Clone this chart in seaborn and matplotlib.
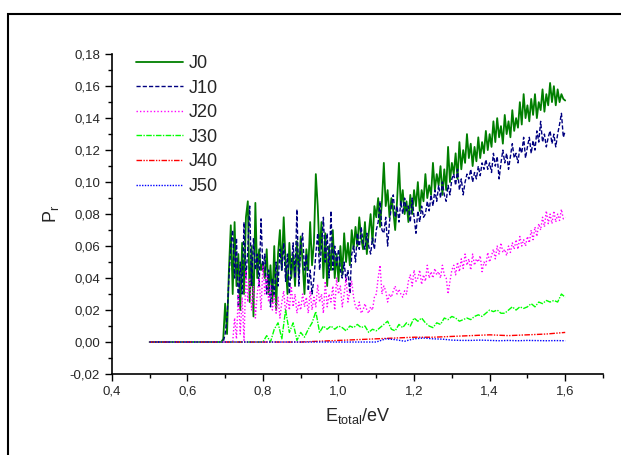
import numpy as np
import pandas as pd
import matplotlib
matplotlib.use("Agg")
import matplotlib.pyplot as plt
from matplotlib.patches import Rectangle
from matplotlib.ticker import MultipleLocator, FuncFormatter
import seaborn as sns

# values (P_r vs E_total)
j0 = [0.0, 0.002, 0.024, 0.005, 0.045, 0.073, 0.030, 0.075, 0.035, 0.055, 0.020, 0.062, 0.030, 0.078, 0.088, 0.025, 0.060, 0.016, 0.087, 0.040, 0.058, 0.045, 0.050,
      0.040, 0.058, 0.030, 0.048, 0.025, 0.060, 0.020, 0.055, 0.070, 0.045, 0.078, 0.050, 0.030, 0.062, 0.040, 0.055, 0.035, 0.063, 0.042, 0.066,
      0.050, 0.030, 0.058, 0.045, 0.075, 0.048, 0.062, 0.105, 0.085, 0.055, 0.075, 0.040, 0.068, 0.035, 0.060, 0.045, 0.070, 0.040, 0.055, 0.038,
      0.060, 0.042, 0.068, 0.050, 0.062, 0.048, 0.070, 0.058, 0.072, 0.060, 0.078, 0.065, 0.058, 0.075, 0.055, 0.068, 0.080, 0.062, 0.085, 0.078,
      0.090, 0.072, 0.088, 0.112, 0.085, 0.095, 0.078, 0.090, 0.082, 0.070, 0.088, 0.112, 0.085, 0.095, 0.080, 0.088, 0.075, 0.092, 0.080, 0.095,
      0.085, 0.100, 0.082, 0.095, 0.088, 0.105, 0.090, 0.098, 0.092, 0.112, 0.095, 0.105, 0.098, 0.110, 0.092, 0.108, 0.095, 0.122, 0.100, 0.112,
      0.105, 0.118, 0.102, 0.125, 0.108, 0.120, 0.112, 0.130, 0.115, 0.124, 0.110, 0.122, 0.113, 0.128, 0.115, 0.125, 0.118, 0.132, 0.120, 0.130,
      0.122, 0.138, 0.125, 0.140, 0.128, 0.135, 0.124, 0.142, 0.130, 0.138, 0.128, 0.145, 0.132, 0.140, 0.134, 0.150, 0.136, 0.155, 0.140, 0.148,
      0.138, 0.152, 0.142, 0.155, 0.140, 0.150, 0.145, 0.158, 0.144, 0.155, 0.148, 0.162, 0.150, 0.160, 0.148, 0.158, 0.150, 0.155, 0.152, 0.151]
j10 = [0.0, 0.0, 0.005, 0.015, 0.040, 0.060, 0.070, 0.040, 0.065, 0.022, 0.050, 0.030, 0.075, 0.040, 0.058, 0.085, 0.035, 0.065, 0.045, 0.055, 0.035, 0.077, 0.045,
       0.055, 0.030, 0.045, 0.022, 0.040, 0.028, 0.050, 0.035, 0.058, 0.045, 0.062, 0.038, 0.055, 0.030, 0.048, 0.062, 0.040, 0.083, 0.035, 0.060,
       0.068, 0.045, 0.055, 0.032, 0.045, 0.030, 0.040, 0.055, 0.068, 0.045, 0.060, 0.078, 0.050, 0.068, 0.040, 0.082, 0.045, 0.060, 0.048, 0.058,
       0.045, 0.040, 0.050, 0.038, 0.045, 0.030, 0.055, 0.060, 0.050, 0.068, 0.058, 0.072, 0.062, 0.058, 0.068, 0.060, 0.055, 0.065, 0.058, 0.070,
       0.075, 0.088, 0.070, 0.068, 0.078, 0.060, 0.075, 0.085, 0.092, 0.078, 0.085, 0.075, 0.088, 0.080, 0.090, 0.082, 0.085, 0.075, 0.090, 0.078,
       0.068, 0.082, 0.075, 0.085, 0.078, 0.080, 0.088, 0.082, 0.092, 0.085, 0.095, 0.088, 0.098, 0.090, 0.100, 0.092, 0.088, 0.098, 0.092, 0.102,
       0.105, 0.098, 0.108, 0.095, 0.102, 0.092, 0.100, 0.105, 0.102, 0.108, 0.100, 0.106, 0.102, 0.110, 0.104, 0.112, 0.108, 0.114, 0.108, 0.112,
       0.106, 0.118, 0.110, 0.116, 0.102, 0.112, 0.120, 0.112, 0.118, 0.108, 0.116, 0.124, 0.115, 0.118, 0.112, 0.122, 0.118, 0.128, 0.115, 0.122,
       0.128, 0.118, 0.126, 0.120, 0.132, 0.125, 0.138, 0.125, 0.130, 0.122, 0.128, 0.132, 0.124, 0.130, 0.122, 0.130, 0.136, 0.143, 0.128, 0.132]
j20 = [0.0, 0.0, 0.0, 0.0, 0.0, 0.0, 0.0, 0.015, 0.002, 0.030, 0.005, 0.028, 0.001, 0.045, 0.025, 0.040, 0.020, 0.035, 0.015, 0.030, 0.040, 0.020, 0.048,
       0.030, 0.042, 0.025, 0.035, 0.020, 0.030, 0.018, 0.028, 0.015, 0.025, 0.032, 0.018, 0.028, 0.020, 0.035, 0.022, 0.030, 0.018, 0.025, 0.020,
       0.030, 0.022, 0.028, 0.018, 0.032, 0.020, 0.028, 0.022, 0.036, 0.025, 0.030, 0.018, 0.038, 0.022, 0.030, 0.025, 0.035, 0.020, 0.040, 0.030,
       0.035, 0.022, 0.030, 0.040, 0.025, 0.032, 0.038, 0.028, 0.022, 0.020, 0.025, 0.018, 0.020, 0.024, 0.020, 0.018, 0.022, 0.020, 0.028, 0.030,
       0.040, 0.048, 0.030, 0.035, 0.032, 0.025, 0.030, 0.028, 0.032, 0.035, 0.030, 0.033, 0.030, 0.028, 0.032, 0.030, 0.038, 0.042, 0.035, 0.045,
       0.038, 0.040, 0.045, 0.036, 0.042, 0.038, 0.048, 0.040, 0.044, 0.040, 0.046, 0.042, 0.044, 0.040, 0.048, 0.042, 0.040, 0.030, 0.038, 0.045,
       0.048, 0.042, 0.050, 0.044, 0.052, 0.046, 0.055, 0.048, 0.052, 0.045, 0.055, 0.048, 0.052, 0.050, 0.054, 0.044, 0.050, 0.048, 0.056, 0.050,
       0.054, 0.058, 0.052, 0.060, 0.055, 0.062, 0.056, 0.058, 0.054, 0.060, 0.056, 0.062, 0.058, 0.064, 0.058, 0.066, 0.060, 0.064, 0.060, 0.066,
       0.062, 0.070, 0.064, 0.072, 0.066, 0.074, 0.070, 0.078, 0.072, 0.082, 0.074, 0.080, 0.074, 0.082, 0.075, 0.080, 0.076, 0.083, 0.077, 0.078]
j30 = [0.0, 0.004, 0.0, 0.008, 0.012, 0.002, 0.020, 0.006, 0.012, 0.001, 0.006, 0.003, 0.008, 0.012, 0.019, 0.006, 0.010, 0.008, 0.010, 0.008,
       0.010, 0.009, 0.007, 0.010, 0.009, 0.011, 0.009, 0.010, 0.006, 0.008, 0.007, 0.009, 0.011, 0.013, 0.008, 0.007, 0.011, 0.009, 0.012, 0.010,
       0.015, 0.013, 0.015, 0.012, 0.010, 0.009, 0.012, 0.011, 0.015, 0.014, 0.016, 0.015, 0.013, 0.014, 0.015, 0.014, 0.016, 0.017, 0.016, 0.018,
       0.020, 0.019, 0.020, 0.018, 0.018, 0.020, 0.022, 0.020, 0.022, 0.021, 0.022, 0.024, 0.022, 0.025, 0.024, 0.026, 0.025, 0.026, 0.025, 0.030,
       0.028]
j40 = [0.0, 0.0005, 0.001, 0.0015, 0.002, 0.0025, 0.003, 0.003, 0.0035, 0.004, 0.0045, 0.004, 0.0045, 0.005, 0.006]
j50 = [0.0, 0.002, 0.0015, 0.0005, 0.002, 0.0025, 0.002, 0.0018, 0.0012, 0.001, 0.001, 0.0012, 0.001, 0.0008, 0.001,
       0.0008, 0.001, 0.0009, 0.0008, 0.0009, 0.0008]
labels = ["J0", "J10", "J20", "J30", "J40", "J50"]

# sampling grids (series start flat at 0 from E = 0.5)
x_fine = np.linspace(0.69, 1.60, len(j0))
x30 = np.linspace(0.80, 1.60, len(j30))
x40 = np.linspace(0.90, 1.60, len(j40))
x50 = np.linspace(1.10, 1.60, len(j50))

series = [(x_fine, j0), (x_fine, j10), (x_fine, j20), (x30, j30), (x40, j40), (x50, j50)]
frames = []
for lab, (xs, ys) in zip(labels, series):
    frames.append(pd.DataFrame({"E": np.r_[0.5, xs], "P": np.r_[0.0, ys], "J": lab}))
df = pd.concat(frames, ignore_index=True)

sns.set_style("ticks")
plt.rcParams["font.family"] = ["Liberation Sans", "DejaVu Sans"]

fig = plt.figure(figsize=(6.21, 4.55), dpi=100)
ax = fig.add_axes([0.180, 0.178, 0.791, 0.703])

colors = ["#007f00", "#000080", "#ff00ff", "#00ff00", "#ff0000", "#0000ff"]
dashes = [(1, 0), (3, 1.5), (1, 1.5), (4, 1, 1, 1), (4, 1, 1, 1, 1, 1), (1, 1)]
widths = [1.3, 1.0, 1.0, 1.0, 1.0, 1.0]
for lab, c, d, w in zip(labels, colors, dashes, widths):
    sub = df[df.J == lab]
    sns.lineplot(data=sub, x="E", y="P", color=c, lw=w, ax=ax, label=lab,
                 dashes=False, estimator=None, sort=False)
    ax.lines[-1].set_dashes(d) if d != (1, 0) else None

ax.set_xlim(0.4, 1.7)
ax.set_ylim(-0.02, 0.18)
ax.xaxis.set_major_locator(MultipleLocator(0.2))
ax.xaxis.set_minor_locator(MultipleLocator(0.1))
ax.yaxis.set_major_locator(MultipleLocator(0.02))
ax.yaxis.set_minor_locator(MultipleLocator(0.01))
fmt = FuncFormatter(lambda v, p: f"{v:.1f}".replace(".", ",") if True else "")
ax.xaxis.set_major_formatter(FuncFormatter(lambda v, p: f"{v:.1f}".replace(".", ",") if v < 1.65 else ""))
ax.yaxis.set_major_formatter(FuncFormatter(lambda v, p: f"{v:.2f}".replace(".", ",").replace("\u2212", "-")))
ax.tick_params(which="major", length=5, width=1, labelsize=9.5, direction="out", color="black")
ax.tick_params(which="minor", length=3, width=1, direction="out", color="black")
for s in ["left", "bottom"]:
    ax.spines[s].set_color("black")
    ax.spines[s].set_linewidth(1.2)
sns.despine(ax=ax)

ax.set_xlabel("E$_{\\mathregular{total}}$/eV", fontsize=13, labelpad=6)
ax.set_ylabel("P$_{\\mathregular{r}}$", fontsize=13, labelpad=6)

ax.legend(loc="upper left", bbox_to_anchor=(0.035, 1.02), frameon=False, fontsize=13,
          handlelength=2.6, handletextpad=0.3, labelspacing=0.42, borderaxespad=0)

fig.patches.append(Rectangle((0.013, -0.1), 1.2, 1.069, transform=fig.transFigure,
                             fill=False, lw=1.5, edgecolor="black", clip_on=False))

plt.savefig("out.png", dpi=100)
